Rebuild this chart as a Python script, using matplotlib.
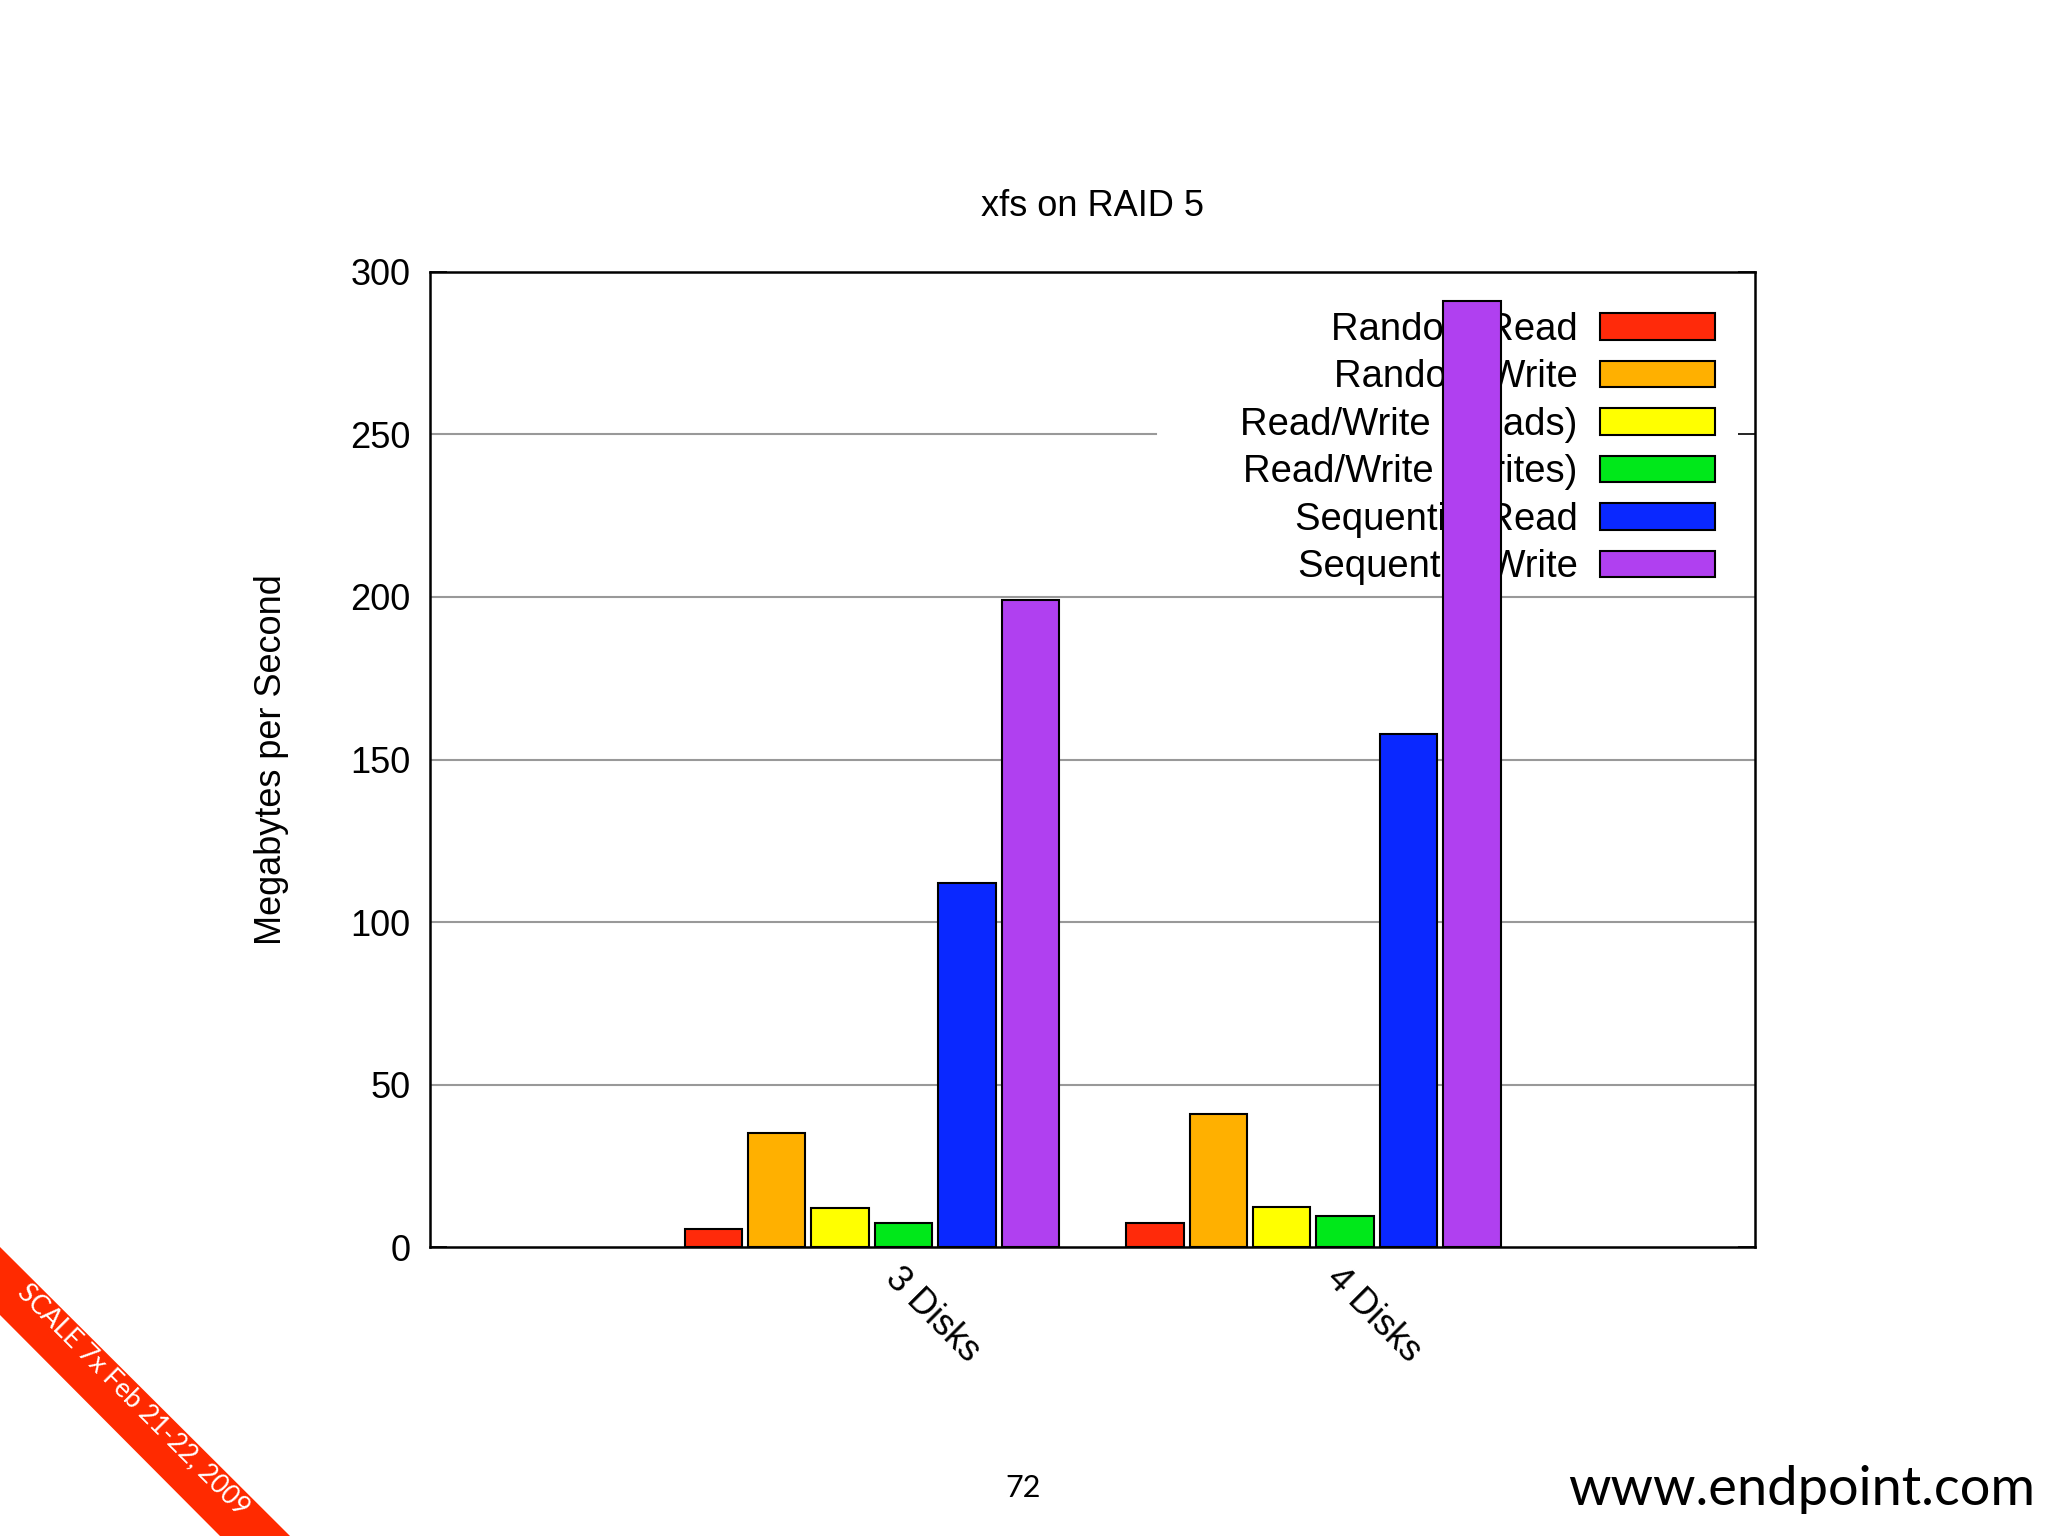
import matplotlib
matplotlib.use("Agg")
import matplotlib.pyplot as plt
import numpy as np
from matplotlib.patches import Polygon

plt.rcParams['font.family'] = ['Liberation Sans', 'DejaVu Sans']

groups = ["3 Disks", "4 Disks"]
series = ["Random Read", "Random Write", "Read/Write (Reads)", "Read/Write (Writes)",
          "Sequential Read", "Sequential Write"]
values = {
    "Random Read": [5.5, 7.5],
    "Random Write": [35, 41],
    "Read/Write (Reads)": [12, 12.5],
    "Read/Write (Writes)": [7.5, 9.5],
    "Sequential Read": [112, 158],
    "Sequential Write": [199, 291],
}
colors = ["#ff2a0a", "#ffb000", "#ffff00", "#00e81a", "#0a28ff", "#b040f0"]

fig = plt.figure(figsize=(20.48, 15.36), dpi=100)
ax = fig.add_axes([0.210, 0.188, 0.647, 0.635])
ax.set_xlim(-1, 2)
ax.set_ylim(0, 300)

x = np.arange(len(groups))
step = 0.1435
for i, s in enumerate(series):
    ax.bar(x + (i - 2.5) * step, values[s], width=0.13, color=colors[i],
           edgecolor="black", linewidth=1.5, zorder=3, label=s)

for y in [50, 100, 150, 200]:
    ax.axhline(y, color="#999999", linewidth=1.5, zorder=2.5)
ax.axhline(250, xmin=0, xmax=0.548, color="#999999", linewidth=1.5, zorder=2.5)

FS = 26
ax.set_yticks([0, 50, 100, 150, 200, 250, 300])
ax.tick_params(axis="y", labelsize=FS, direction="in", length=12, right=True, width=1.2, pad=14)
ax.set_xticks(x + 0.07)
ax.set_xticklabels(groups, rotation=-45, ha="left", rotation_mode="anchor", fontsize=FS)
ax.tick_params(axis="x", length=0, pad=10)
for sp in ax.spines.values():
    sp.set_linewidth(1.8)
ax.set_ylabel("Megabytes per Second", fontsize=FS, labelpad=44)
ax.set_title("xfs on RAID 5", fontsize=FS, pad=40)

leg = ax.legend(loc="upper right", markerfirst=False, frameon=True, fontsize=27.5,
                handlelength=3.0, handleheight=0.7, labelspacing=0.3,
                borderaxespad=0.75, handletextpad=0.6, borderpad=0.3)
leg.get_frame().set_edgecolor("none")
leg.get_frame().set_facecolor("white")
leg.get_frame().set_alpha(1)
leg.set_zorder(2)
for t in leg.get_texts():
    t.set_ha("right")
for h in leg.legend_handles:
    h.set_edgecolor("black"); h.set_linewidth(1.5)

# slide decorations
H = 1536.0
band = Polygon([(0/2048, 1-1247/H), (290/2048, 1-1536/H), (220/2048, 1-1536/H), (0, 1-1315/H)],
               closed=True, transform=fig.transFigure, facecolor="#ff2a00", edgecolor="none")
fig.patches.append(band)
fig.text(134/2048, 1-1400/H, "SCALE 7x Feb 21-22, 2009", color="white", fontsize=19,
         rotation=-45, ha="center", va="center", family="Lato")
fig.text(1023/2048, 1-1488/H, "72", fontsize=22, ha="center", va="center", family="Lato")
fig.text(2035/2048, 1-1490/H, "www.endpoint.com", fontsize=39, ha="right", va="center", family="Lato")

fig.savefig("out.png", dpi=100)
